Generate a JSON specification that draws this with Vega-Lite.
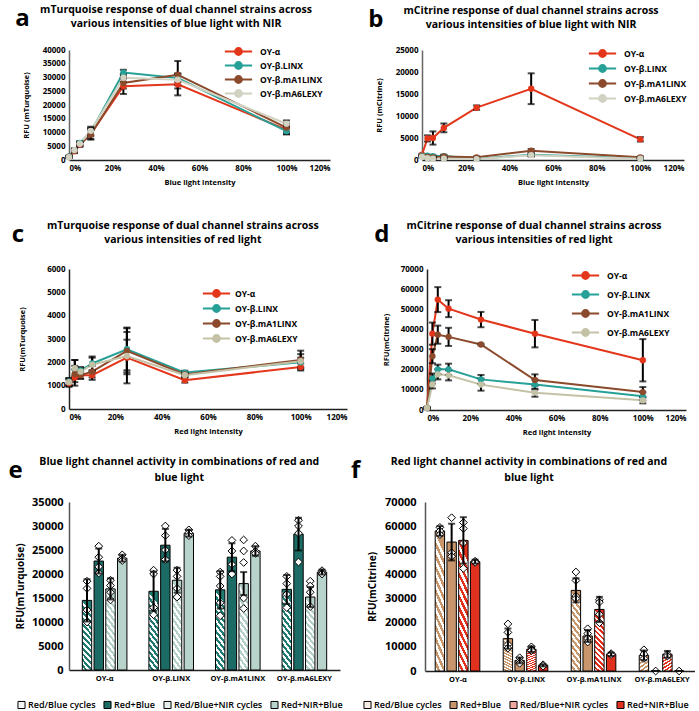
{
  "$schema": "https://vega.github.io/schema/vega-lite/v6.json",
  "padding": {"left": 8, "top": 4, "right": 0, "bottom": 0},
  "columns": 1,
  "align": "none",
  "spacing": 34,
  "resolve": {"scale": {"color": "independent", "fill": "independent"}, "legend": {"color": "independent", "fill": "independent"}},
  "config": {
    "font": "Open Sans",
    "view": {"stroke": null},
    "axis": {"grid": false, "ticks": false, "domainColor": "#222", "domainWidth": 1.5, "labelFontWeight": "bold", "titleFontWeight": "bold", "labelColor": "#000", "titleColor": "#000", "labelFontSize": 8, "titleFontSize": 7.5, "labelPadding": 4, "titlePadding": 6},
    "axisY": {"format": "d"},
    "legend": {"labelFontWeight": "bold", "labelColor": "#000", "title": null},
    "title": {"fontSize": 10.5, "fontWeight": "bold", "color": "#000", "lineHeight": 14, "anchor": "middle", "frame": "bounds", "offset": 16}
  },
  "datasets": {
    "a": [
      {"strain": "OY-α", "x": 0, "y": 1200, "sd": 300}, {"strain": "OY-α", "x": 0.025, "y": 3200, "sd": 700}, {"strain": "OY-α", "x": 0.05, "y": 5600, "sd": 800}, {"strain": "OY-α", "x": 0.1, "y": 9500, "sd": 1800}, {"strain": "OY-α", "x": 0.25, "y": 26800, "sd": 2800}, {"strain": "OY-α", "x": 0.5, "y": 27500, "sd": 4000}, {"strain": "OY-α", "x": 1, "y": 11000, "sd": 1500},
      {"strain": "OY-β.LINX", "x": 0, "y": 1300, "sd": 300}, {"strain": "OY-β.LINX", "x": 0.025, "y": 3500, "sd": 600}, {"strain": "OY-β.LINX", "x": 0.05, "y": 6200, "sd": 700}, {"strain": "OY-β.LINX", "x": 0.1, "y": 10200, "sd": 1500}, {"strain": "OY-β.LINX", "x": 0.25, "y": 31800, "sd": 1000}, {"strain": "OY-β.LINX", "x": 0.5, "y": 29800, "sd": 1500}, {"strain": "OY-β.LINX", "x": 1, "y": 10500, "sd": 1200},
      {"strain": "OY-β.mA1LINX", "x": 0, "y": 1100, "sd": 300}, {"strain": "OY-β.mA1LINX", "x": 0.025, "y": 3300, "sd": 600}, {"strain": "OY-β.mA1LINX", "x": 0.05, "y": 5700, "sd": 700}, {"strain": "OY-β.mA1LINX", "x": 0.1, "y": 9200, "sd": 1800}, {"strain": "OY-β.mA1LINX", "x": 0.25, "y": 28000, "sd": 2000}, {"strain": "OY-β.mA1LINX", "x": 0.5, "y": 31000, "sd": 5000}, {"strain": "OY-β.mA1LINX", "x": 1, "y": 11800, "sd": 1500},
      {"strain": "OY-β.mA6LEXY", "x": 0, "y": 1000, "sd": 300}, {"strain": "OY-β.mA6LEXY", "x": 0.025, "y": 3600, "sd": 600}, {"strain": "OY-β.mA6LEXY", "x": 0.05, "y": 5900, "sd": 700}, {"strain": "OY-β.mA6LEXY", "x": 0.1, "y": 10600, "sd": 1500}, {"strain": "OY-β.mA6LEXY", "x": 0.25, "y": 29900, "sd": 1500}, {"strain": "OY-β.mA6LEXY", "x": 0.5, "y": 29200, "sd": 2000}, {"strain": "OY-β.mA6LEXY", "x": 1, "y": 13200, "sd": 1200}
    ],
    "b": [
      {"strain": "OY-α", "x": 0, "y": 1200, "sd": 200}, {"strain": "OY-α", "x": 0.025, "y": 4900, "sd": 700}, {"strain": "OY-α", "x": 0.05, "y": 5000, "sd": 1500}, {"strain": "OY-α", "x": 0.1, "y": 7300, "sd": 1000}, {"strain": "OY-α", "x": 0.25, "y": 11900, "sd": 500}, {"strain": "OY-α", "x": 0.5, "y": 16200, "sd": 3500}, {"strain": "OY-α", "x": 1, "y": 4700, "sd": 500},
      {"strain": "OY-β.LINX", "x": 0, "y": 1000, "sd": 200}, {"strain": "OY-β.LINX", "x": 0.025, "y": 1000, "sd": 200}, {"strain": "OY-β.LINX", "x": 0.05, "y": 900, "sd": 200}, {"strain": "OY-β.LINX", "x": 0.1, "y": 900, "sd": 300}, {"strain": "OY-β.LINX", "x": 0.25, "y": 300, "sd": 100}, {"strain": "OY-β.LINX", "x": 0.5, "y": 1200, "sd": 300}, {"strain": "OY-β.LINX", "x": 1, "y": 400, "sd": 100},
      {"strain": "OY-β.mA1LINX", "x": 0, "y": 800, "sd": 200}, {"strain": "OY-β.mA1LINX", "x": 0.025, "y": 700, "sd": 200}, {"strain": "OY-β.mA1LINX", "x": 0.05, "y": 600, "sd": 200}, {"strain": "OY-β.mA1LINX", "x": 0.1, "y": 800, "sd": 300}, {"strain": "OY-β.mA1LINX", "x": 0.25, "y": 600, "sd": 200}, {"strain": "OY-β.mA1LINX", "x": 0.5, "y": 2100, "sd": 400}, {"strain": "OY-β.mA1LINX", "x": 1, "y": 600, "sd": 200},
      {"strain": "OY-β.mA6LEXY", "x": 0, "y": 700, "sd": 200}, {"strain": "OY-β.mA6LEXY", "x": 0.025, "y": 400, "sd": 100}, {"strain": "OY-β.mA6LEXY", "x": 0.05, "y": 300, "sd": 100}, {"strain": "OY-β.mA6LEXY", "x": 0.1, "y": 300, "sd": 100}, {"strain": "OY-β.mA6LEXY", "x": 0.25, "y": 200, "sd": 100}, {"strain": "OY-β.mA6LEXY", "x": 0.5, "y": 1100, "sd": 300}, {"strain": "OY-β.mA6LEXY", "x": 1, "y": 300, "sd": 100}
    ],
    "c": [
      {"strain": "OY-α", "x": 0, "y": 1100, "sd": 150}, {"strain": "OY-α", "x": 0.025, "y": 1350, "sd": 350}, {"strain": "OY-α", "x": 0.05, "y": 1450, "sd": 150}, {"strain": "OY-α", "x": 0.1, "y": 1450, "sd": 200}, {"strain": "OY-α", "x": 0.25, "y": 2200, "sd": 1100}, {"strain": "OY-α", "x": 0.5, "y": 1230, "sd": 100}, {"strain": "OY-α", "x": 1, "y": 1800, "sd": 150},
      {"strain": "OY-β.LINX", "x": 0, "y": 1180, "sd": 150}, {"strain": "OY-β.LINX", "x": 0.025, "y": 1700, "sd": 400}, {"strain": "OY-β.LINX", "x": 0.05, "y": 1650, "sd": 150}, {"strain": "OY-β.LINX", "x": 0.1, "y": 1950, "sd": 300}, {"strain": "OY-β.LINX", "x": 0.25, "y": 2560, "sd": 900}, {"strain": "OY-β.LINX", "x": 0.5, "y": 1560, "sd": 80}, {"strain": "OY-β.LINX", "x": 1, "y": 2000, "sd": 200},
      {"strain": "OY-β.mA1LINX", "x": 0, "y": 1150, "sd": 150}, {"strain": "OY-β.mA1LINX", "x": 0.025, "y": 1500, "sd": 350}, {"strain": "OY-β.mA1LINX", "x": 0.05, "y": 1450, "sd": 150}, {"strain": "OY-β.mA1LINX", "x": 0.1, "y": 1600, "sd": 250}, {"strain": "OY-β.mA1LINX", "x": 0.25, "y": 2490, "sd": 1000}, {"strain": "OY-β.mA1LINX", "x": 0.5, "y": 1480, "sd": 80}, {"strain": "OY-β.mA1LINX", "x": 1, "y": 2100, "sd": 400},
      {"strain": "OY-β.mA6LEXY", "x": 0, "y": 1150, "sd": 150}, {"strain": "OY-β.mA6LEXY", "x": 0.025, "y": 1750, "sd": 350}, {"strain": "OY-β.mA6LEXY", "x": 0.05, "y": 1600, "sd": 150}, {"strain": "OY-β.mA6LEXY", "x": 0.1, "y": 1900, "sd": 300}, {"strain": "OY-β.mA6LEXY", "x": 0.25, "y": 2270, "sd": 700}, {"strain": "OY-β.mA6LEXY", "x": 0.5, "y": 1450, "sd": 80}, {"strain": "OY-β.mA6LEXY", "x": 1, "y": 2050, "sd": 300}
    ],
    "d": [
      {"strain": "OY-α", "x": 0, "y": 1000, "sd": 300}, {"strain": "OY-α", "x": 0.025, "y": 37900, "sd": 5500}, {"strain": "OY-α", "x": 0.05, "y": 54800, "sd": 6200}, {"strain": "OY-α", "x": 0.1, "y": 50300, "sd": 4200}, {"strain": "OY-α", "x": 0.25, "y": 44900, "sd": 3800}, {"strain": "OY-α", "x": 0.5, "y": 37900, "sd": 6800}, {"strain": "OY-α", "x": 1, "y": 24700, "sd": 10500},
      {"strain": "OY-β.LINX", "x": 0, "y": 1000, "sd": 300}, {"strain": "OY-β.LINX", "x": 0.025, "y": 15600, "sd": 2500}, {"strain": "OY-β.LINX", "x": 0.05, "y": 20200, "sd": 2300}, {"strain": "OY-β.LINX", "x": 0.1, "y": 20200, "sd": 2800}, {"strain": "OY-β.LINX", "x": 0.25, "y": 15200, "sd": 2200}, {"strain": "OY-β.LINX", "x": 0.5, "y": 12600, "sd": 2500}, {"strain": "OY-β.LINX", "x": 1, "y": 6800, "sd": 2000},
      {"strain": "OY-β.mA1LINX", "x": 0, "y": 1000, "sd": 300}, {"strain": "OY-β.mA1LINX", "x": 0.025, "y": 26700, "sd": 3500}, {"strain": "OY-β.mA1LINX", "x": 0.05, "y": 37400, "sd": 4500}, {"strain": "OY-β.mA1LINX", "x": 0.1, "y": 36300, "sd": 4500}, {"strain": "OY-β.mA1LINX", "x": 0.25, "y": 32500, "sd": 400}, {"strain": "OY-β.mA1LINX", "x": 0.5, "y": 14900, "sd": 2800}, {"strain": "OY-β.mA1LINX", "x": 1, "y": 8900, "sd": 2500},
      {"strain": "OY-β.mA6LEXY", "x": 0, "y": 1000, "sd": 300}, {"strain": "OY-β.mA6LEXY", "x": 0.025, "y": 12700, "sd": 2000}, {"strain": "OY-β.mA6LEXY", "x": 0.05, "y": 17700, "sd": 2500}, {"strain": "OY-β.mA6LEXY", "x": 0.1, "y": 17200, "sd": 2500}, {"strain": "OY-β.mA6LEXY", "x": 0.25, "y": 12600, "sd": 3000}, {"strain": "OY-β.mA6LEXY", "x": 0.5, "y": 8600, "sd": 2000}, {"strain": "OY-β.mA6LEXY", "x": 1, "y": 4800, "sd": 1500}
    ],
    "e": [
      {"strain": "OY-α", "cond": "Red/Blue cycles", "y": 14500, "sd": 4400}, {"strain": "OY-α", "cond": "Red+Blue", "y": 22700, "sd": 2600}, {"strain": "OY-α", "cond": "Red/Blue+NIR cycles", "y": 16900, "sd": 2200}, {"strain": "OY-α", "cond": "Red+NIR+Blue", "y": 23300, "sd": 700},
      {"strain": "OY-β.LINX", "cond": "Red/Blue cycles", "y": 16400, "sd": 4100}, {"strain": "OY-β.LINX", "cond": "Red+Blue", "y": 26000, "sd": 3400}, {"strain": "OY-β.LINX", "cond": "Red/Blue+NIR cycles", "y": 18700, "sd": 2600}, {"strain": "OY-β.LINX", "cond": "Red+NIR+Blue", "y": 28500, "sd": 700},
      {"strain": "OY-β.mA1LINX", "cond": "Red/Blue cycles", "y": 16700, "sd": 3900}, {"strain": "OY-β.mA1LINX", "cond": "Red+Blue", "y": 23500, "sd": 2900}, {"strain": "OY-β.mA1LINX", "cond": "Red/Blue+NIR cycles", "y": 18000, "sd": 2400}, {"strain": "OY-β.mA1LINX", "cond": "Red+NIR+Blue", "y": 24800, "sd": 1000},
      {"strain": "OY-β.mA6LEXY", "cond": "Red/Blue cycles", "y": 16800, "sd": 3000}, {"strain": "OY-β.mA6LEXY", "cond": "Red+Blue", "y": 28300, "sd": 3400}, {"strain": "OY-β.mA6LEXY", "cond": "Red/Blue+NIR cycles", "y": 15200, "sd": 2100}, {"strain": "OY-β.mA6LEXY", "cond": "Red+NIR+Blue", "y": 20400, "sd": 500}
    ],
    "eRep": [
      {"strain": "OY-α", "cond": "Red/Blue cycles", "y": 18500}, {"strain": "OY-α", "cond": "Red/Blue cycles", "y": 12500}, {"strain": "OY-α", "cond": "Red/Blue cycles", "y": 10000}, {"strain": "OY-α", "cond": "Red/Blue cycles", "y": 17000},
      {"strain": "OY-α", "cond": "Red+Blue", "y": 25800}, {"strain": "OY-α", "cond": "Red+Blue", "y": 23500}, {"strain": "OY-α", "cond": "Red+Blue", "y": 20200}, {"strain": "OY-α", "cond": "Red+Blue", "y": 21500},
      {"strain": "OY-α", "cond": "Red/Blue+NIR cycles", "y": 18700}, {"strain": "OY-α", "cond": "Red/Blue+NIR cycles", "y": 17600}, {"strain": "OY-α", "cond": "Red/Blue+NIR cycles", "y": 16200}, {"strain": "OY-α", "cond": "Red/Blue+NIR cycles", "y": 14600},
      {"strain": "OY-α", "cond": "Red+NIR+Blue", "y": 24000}, {"strain": "OY-α", "cond": "Red+NIR+Blue", "y": 23200}, {"strain": "OY-α", "cond": "Red+NIR+Blue", "y": 22800},
      {"strain": "OY-β.LINX", "cond": "Red/Blue cycles", "y": 20800}, {"strain": "OY-β.LINX", "cond": "Red/Blue cycles", "y": 20000}, {"strain": "OY-β.LINX", "cond": "Red/Blue cycles", "y": 13000}, {"strain": "OY-β.LINX", "cond": "Red/Blue cycles", "y": 11500},
      {"strain": "OY-β.LINX", "cond": "Red+Blue", "y": 30000}, {"strain": "OY-β.LINX", "cond": "Red+Blue", "y": 28000}, {"strain": "OY-β.LINX", "cond": "Red+Blue", "y": 25000}, {"strain": "OY-β.LINX", "cond": "Red+Blue", "y": 23000},
      {"strain": "OY-β.LINX", "cond": "Red/Blue+NIR cycles", "y": 20800}, {"strain": "OY-β.LINX", "cond": "Red/Blue+NIR cycles", "y": 19500}, {"strain": "OY-β.LINX", "cond": "Red/Blue+NIR cycles", "y": 17000}, {"strain": "OY-β.LINX", "cond": "Red/Blue+NIR cycles", "y": 15200},
      {"strain": "OY-β.LINX", "cond": "Red+NIR+Blue", "y": 29200}, {"strain": "OY-β.LINX", "cond": "Red+NIR+Blue", "y": 28600}, {"strain": "OY-β.LINX", "cond": "Red+NIR+Blue", "y": 28000},
      {"strain": "OY-β.mA1LINX", "cond": "Red/Blue cycles", "y": 20400}, {"strain": "OY-β.mA1LINX", "cond": "Red/Blue cycles", "y": 19500}, {"strain": "OY-β.mA1LINX", "cond": "Red/Blue cycles", "y": 14000}, {"strain": "OY-β.mA1LINX", "cond": "Red/Blue cycles", "y": 11300}, {"strain": "OY-β.mA1LINX", "cond": "Red/Blue cycles", "y": 17500},
      {"strain": "OY-β.mA1LINX", "cond": "Red+Blue", "y": 27000}, {"strain": "OY-β.mA1LINX", "cond": "Red+Blue", "y": 24800}, {"strain": "OY-β.mA1LINX", "cond": "Red+Blue", "y": 22000}, {"strain": "OY-β.mA1LINX", "cond": "Red+Blue", "y": 20000},
      {"strain": "OY-β.mA1LINX", "cond": "Red/Blue+NIR cycles", "y": 27100}, {"strain": "OY-β.mA1LINX", "cond": "Red/Blue+NIR cycles", "y": 24800}, {"strain": "OY-β.mA1LINX", "cond": "Red/Blue+NIR cycles", "y": 22400}, {"strain": "OY-β.mA1LINX", "cond": "Red/Blue+NIR cycles", "y": 15000}, {"strain": "OY-β.mA1LINX", "cond": "Red/Blue+NIR cycles", "y": 12800},
      {"strain": "OY-β.mA1LINX", "cond": "Red+NIR+Blue", "y": 25800}, {"strain": "OY-β.mA1LINX", "cond": "Red+NIR+Blue", "y": 24700}, {"strain": "OY-β.mA1LINX", "cond": "Red+NIR+Blue", "y": 24300},
      {"strain": "OY-β.mA6LEXY", "cond": "Red/Blue cycles", "y": 19500}, {"strain": "OY-β.mA6LEXY", "cond": "Red/Blue cycles", "y": 18000}, {"strain": "OY-β.mA6LEXY", "cond": "Red/Blue cycles", "y": 15800}, {"strain": "OY-β.mA6LEXY", "cond": "Red/Blue cycles", "y": 13000},
      {"strain": "OY-β.mA6LEXY", "cond": "Red+Blue", "y": 31200}, {"strain": "OY-β.mA6LEXY", "cond": "Red+Blue", "y": 30000}, {"strain": "OY-β.mA6LEXY", "cond": "Red+Blue", "y": 28500}, {"strain": "OY-β.mA6LEXY", "cond": "Red+Blue", "y": 22500},
      {"strain": "OY-β.mA6LEXY", "cond": "Red/Blue+NIR cycles", "y": 18500}, {"strain": "OY-β.mA6LEXY", "cond": "Red/Blue+NIR cycles", "y": 17500}, {"strain": "OY-β.mA6LEXY", "cond": "Red/Blue+NIR cycles", "y": 16200}, {"strain": "OY-β.mA6LEXY", "cond": "Red/Blue+NIR cycles", "y": 13200},
      {"strain": "OY-β.mA6LEXY", "cond": "Red+NIR+Blue", "y": 20700}, {"strain": "OY-β.mA6LEXY", "cond": "Red+NIR+Blue", "y": 20300}, {"strain": "OY-β.mA6LEXY", "cond": "Red+NIR+Blue", "y": 20000}
    ],
    "f": [
      {"strain": "OY-α", "cond": "Red/Blue cycles", "y": 58000, "sd": 2000}, {"strain": "OY-α", "cond": "Red+Blue", "y": 53400, "sd": 7600}, {"strain": "OY-α", "cond": "Red/Blue+NIR cycles", "y": 54100, "sd": 9600}, {"strain": "OY-α", "cond": "Red+NIR+Blue", "y": 45300, "sd": 800},
      {"strain": "OY-β.LINX", "cond": "Red/Blue cycles", "y": 13400, "sd": 4200}, {"strain": "OY-β.LINX", "cond": "Red+Blue", "y": 4400, "sd": 1200}, {"strain": "OY-β.LINX", "cond": "Red/Blue+NIR cycles", "y": 9000, "sd": 1200}, {"strain": "OY-β.LINX", "cond": "Red+NIR+Blue", "y": 2300, "sd": 400},
      {"strain": "OY-β.mA1LINX", "cond": "Red/Blue cycles", "y": 33400, "sd": 5000}, {"strain": "OY-β.mA1LINX", "cond": "Red+Blue", "y": 14500, "sd": 2500}, {"strain": "OY-β.mA1LINX", "cond": "Red/Blue+NIR cycles", "y": 25500, "sd": 5200}, {"strain": "OY-β.mA1LINX", "cond": "Red+NIR+Blue", "y": 6900, "sd": 700},
      {"strain": "OY-β.mA6LEXY", "cond": "Red/Blue cycles", "y": 6500, "sd": 2000}, {"strain": "OY-β.mA6LEXY", "cond": "Red+Blue", "y": 0, "sd": 0}, {"strain": "OY-β.mA6LEXY", "cond": "Red/Blue+NIR cycles", "y": 6900, "sd": 1400}, {"strain": "OY-β.mA6LEXY", "cond": "Red+NIR+Blue", "y": 0, "sd": 0}
    ],
    "fRep": [
      {"strain": "OY-α", "cond": "Red/Blue cycles", "y": 59500}, {"strain": "OY-α", "cond": "Red/Blue cycles", "y": 58000}, {"strain": "OY-α", "cond": "Red/Blue cycles", "y": 56500},
      {"strain": "OY-α", "cond": "Red+Blue", "y": 63500}, {"strain": "OY-α", "cond": "Red+Blue", "y": 49000}, {"strain": "OY-α", "cond": "Red+Blue", "y": 47500},
      {"strain": "OY-α", "cond": "Red/Blue+NIR cycles", "y": 61500}, {"strain": "OY-α", "cond": "Red/Blue+NIR cycles", "y": 59000}, {"strain": "OY-α", "cond": "Red/Blue+NIR cycles", "y": 42500}, {"strain": "OY-α", "cond": "Red/Blue+NIR cycles", "y": 53000},
      {"strain": "OY-α", "cond": "Red+NIR+Blue", "y": 45500}, {"strain": "OY-α", "cond": "Red+NIR+Blue", "y": 45000},
      {"strain": "OY-β.LINX", "cond": "Red/Blue cycles", "y": 19500}, {"strain": "OY-β.LINX", "cond": "Red/Blue cycles", "y": 16000}, {"strain": "OY-β.LINX", "cond": "Red/Blue cycles", "y": 11000}, {"strain": "OY-β.LINX", "cond": "Red/Blue cycles", "y": 9500},
      {"strain": "OY-β.LINX", "cond": "Red+Blue", "y": 5500}, {"strain": "OY-β.LINX", "cond": "Red+Blue", "y": 4000}, {"strain": "OY-β.LINX", "cond": "Red+Blue", "y": 3200},
      {"strain": "OY-β.LINX", "cond": "Red/Blue+NIR cycles", "y": 10000}, {"strain": "OY-β.LINX", "cond": "Red/Blue+NIR cycles", "y": 9000}, {"strain": "OY-β.LINX", "cond": "Red/Blue+NIR cycles", "y": 8500},
      {"strain": "OY-β.LINX", "cond": "Red+NIR+Blue", "y": 2600}, {"strain": "OY-β.LINX", "cond": "Red+NIR+Blue", "y": 2000},
      {"strain": "OY-β.mA1LINX", "cond": "Red/Blue cycles", "y": 41000}, {"strain": "OY-β.mA1LINX", "cond": "Red/Blue cycles", "y": 37500}, {"strain": "OY-β.mA1LINX", "cond": "Red/Blue cycles", "y": 31000}, {"strain": "OY-β.mA1LINX", "cond": "Red/Blue cycles", "y": 30000},
      {"strain": "OY-β.mA1LINX", "cond": "Red+Blue", "y": 17500}, {"strain": "OY-β.mA1LINX", "cond": "Red+Blue", "y": 15500}, {"strain": "OY-β.mA1LINX", "cond": "Red+Blue", "y": 13500}, {"strain": "OY-β.mA1LINX", "cond": "Red+Blue", "y": 12000},
      {"strain": "OY-β.mA1LINX", "cond": "Red/Blue+NIR cycles", "y": 29500}, {"strain": "OY-β.mA1LINX", "cond": "Red/Blue+NIR cycles", "y": 28500}, {"strain": "OY-β.mA1LINX", "cond": "Red/Blue+NIR cycles", "y": 23500}, {"strain": "OY-β.mA1LINX", "cond": "Red/Blue+NIR cycles", "y": 20000},
      {"strain": "OY-β.mA1LINX", "cond": "Red+NIR+Blue", "y": 7200}, {"strain": "OY-β.mA1LINX", "cond": "Red+NIR+Blue", "y": 6800},
      {"strain": "OY-β.mA6LEXY", "cond": "Red/Blue cycles", "y": 8800}, {"strain": "OY-β.mA6LEXY", "cond": "Red/Blue cycles", "y": 7000}, {"strain": "OY-β.mA6LEXY", "cond": "Red/Blue cycles", "y": 5200},
      {"strain": "OY-β.mA6LEXY", "cond": "Red+Blue", "y": 0},
      {"strain": "OY-β.mA6LEXY", "cond": "Red/Blue+NIR cycles", "y": 7000}, {"strain": "OY-β.mA6LEXY", "cond": "Red/Blue+NIR cycles", "y": 6200},
      {"strain": "OY-β.mA6LEXY", "cond": "Red+NIR+Blue", "y": 0}
    ]
  },
  "concat": [
    {
      "spacing": 38,
      "resolve": {"scale": {"color": "independent"}, "legend": {"color": "independent"}},
      "hconcat": [
        {
          "title": {"text": "a", "anchor": "start", "fontSize": 24, "offset": 0, "dy": 26, "dx": -7},
          "resolve": {"scale": {"color": "independent"}, "legend": {"color": "independent"}},
          "vconcat": [{
            "width": 261, "height": 110,
            "title": {"text": ["mTurquoise response of dual channel strains across", "various intensities of blue light with NIR"]},
            "data": {"name": "a"},
            "encoding": {
              "x": {"field": "x", "type": "quantitative", "scale": {"domain": [0, 1.2]}, "axis": {"values": [0, 0.2, 0.4, 0.6, 0.8, 1, 1.2], "format": ".0%", "title": "Blue light intensity"}},
              "y": {"field": "y", "type": "quantitative", "scale": {"domain": [0, 40000]}, "axis": {"values": [0, 5000, 10000, 15000, 20000, 25000, 30000, 35000, 40000], "title": "RFU (mTurquoise)", "domainColor": "#666", "titlePadding": 12}}
            },
            "layer": [
              {"mark": {"type": "line", "strokeWidth": 2}, "encoding": {"color": {"field": "strain", "type": "nominal", "scale": {"domain": ["OY-α", "OY-β.LINX", "OY-β.mA1LINX", "OY-β.mA6LEXY"], "range": ["#E3361B", "#27A197", "#8B4A2C", "#D2D2C2"]}, "legend": {"orient": "none", "legendX": 163, "legendY": -5, "rowPadding": -2, "labelFontSize": 8.5, "symbolType": "M-2.6,0L2.6,0M-0.65,0A0.65,0.65,0,1,0,0.65,0A0.65,0.65,0,1,0,-0.65,0M-0.35,0A0.35,0.35,0,1,0,0.35,0A0.35,0.35,0,1,0,-0.35,0", "symbolSize": 110, "symbolStrokeWidth": 2, "labelOffset": 15}}}},
              {"mark": {"type": "errorbar", "color": "black", "rule": {"strokeWidth": 2}, "ticks": {"size": 7, "thickness": 2}}, "encoding": {"yError": {"field": "sd"}}},
              {"mark": {"type": "circle", "size": 40, "opacity": 1}, "encoding": {"color": {"field": "strain", "type": "nominal", "legend": null}}}
            ]
          }]
        },
        {
          "title": {"text": "b", "anchor": "start", "fontSize": 24, "offset": 0, "dy": 26, "dx": -7},
          "resolve": {"scale": {"color": "independent"}, "legend": {"color": "independent"}},
          "vconcat": [{
            "width": 262, "height": 110,
            "title": {"text": ["mCitrine response of dual channel strains across", "various intensities of blue light with NIR"]},
            "data": {"name": "b"},
            "encoding": {
              "x": {"field": "x", "type": "quantitative", "scale": {"domain": [0, 1.2]}, "axis": {"values": [0, 0.2, 0.4, 0.6, 0.8, 1, 1.2], "format": ".0%", "title": "Blue light intensity"}},
              "y": {"field": "y", "type": "quantitative", "scale": {"domain": [0, 25000]}, "axis": {"values": [0, 5000, 10000, 15000, 20000, 25000], "title": "RFU (mCitrine)", "domainColor": "#666", "titlePadding": 12}}
            },
            "layer": [
              {"mark": {"type": "line", "strokeWidth": 2}, "encoding": {"color": {"field": "strain", "type": "nominal", "scale": {"domain": ["OY-α", "OY-β.LINX", "OY-β.mA1LINX", "OY-β.mA6LEXY"], "range": ["#E3361B", "#27A197", "#8B4A2C", "#D2D2C2"]}, "legend": {"orient": "none", "legendX": 174, "legendY": -3, "rowPadding": 0, "labelFontSize": 8.5, "symbolType": "M-2.6,0L2.6,0M-0.65,0A0.65,0.65,0,1,0,0.65,0A0.65,0.65,0,1,0,-0.65,0M-0.35,0A0.35,0.35,0,1,0,0.35,0A0.35,0.35,0,1,0,-0.35,0", "symbolSize": 110, "symbolStrokeWidth": 2, "labelOffset": 15}}}},
              {"mark": {"type": "errorbar", "color": "black", "rule": {"strokeWidth": 2}, "ticks": {"size": 7, "thickness": 2}}, "encoding": {"yError": {"field": "sd"}}},
              {"mark": {"type": "circle", "size": 40, "opacity": 1}, "encoding": {"color": {"field": "strain", "type": "nominal", "legend": null}}}
            ]
          }]
        }
      ]
    },
    {
      "columns": 1,
      "align": "none",
      "spacing": 20,
      "resolve": {"scale": {"color": "independent", "fill": "independent"}, "legend": {"color": "independent", "fill": "independent"}},
      "concat": [
        {
          "spacing": 27,
          "resolve": {"scale": {"color": "independent"}, "legend": {"color": "independent"}},
          "hconcat": [
            {
              "title": {"text": "c", "anchor": "start", "fontSize": 24, "offset": 0, "dy": 26, "dx": -7},
              "resolve": {"scale": {"color": "independent"}, "legend": {"color": "independent"}},
              "vconcat": [{
                "width": 278, "height": 140,
                "title": {"text": ["mTurquoise response of dual channel strains across", "various intensities of red light"], "offset": 20},
                "data": {"name": "c"},
                "encoding": {
                  "x": {"field": "x", "type": "quantitative", "scale": {"domain": [0, 1.2]}, "axis": {"values": [0, 0.2, 0.4, 0.6, 0.8, 1, 1.2], "format": ".0%", "title": "Red light intensity"}},
                  "y": {"field": "y", "type": "quantitative", "scale": {"domain": [0, 6000]}, "axis": {"values": [0, 1000, 2000, 3000, 4000, 5000, 6000], "title": "RFU(mTurquoise)", "titlePadding": 20}}
                },
                "layer": [
                  {"mark": {"type": "line", "strokeWidth": 2}, "encoding": {"color": {"field": "strain", "type": "nominal", "scale": {"domain": ["OY-α", "OY-β.LINX", "OY-β.mA1LINX", "OY-β.mA6LEXY"], "range": ["#E3361B", "#27A197", "#8B4A2C", "#C4C2A6"]}, "legend": {"orient": "none", "legendX": 141, "legendY": 18, "rowPadding": 0, "labelFontSize": 8.5, "symbolType": "M-2.6,0L2.6,0M-0.65,0A0.65,0.65,0,1,0,0.65,0A0.65,0.65,0,1,0,-0.65,0M-0.35,0A0.35,0.35,0,1,0,0.35,0A0.35,0.35,0,1,0,-0.35,0", "symbolSize": 110, "symbolStrokeWidth": 2, "labelOffset": 12}}}},
                  {"mark": {"type": "errorbar", "color": "black", "rule": {"strokeWidth": 2}, "ticks": {"size": 7, "thickness": 2}}, "encoding": {"yError": {"field": "sd"}}},
                  {"mark": {"type": "circle", "size": 40, "opacity": 1}, "encoding": {"color": {"field": "strain", "type": "nominal", "legend": null}}}
                ]
              }]
            },
            {
              "title": {"text": "d", "anchor": "start", "fontSize": 24, "offset": 0, "dy": 26, "dx": -8},
              "resolve": {"scale": {"color": "independent"}, "legend": {"color": "independent"}},
              "vconcat": [{
                "width": 259, "height": 141,
                "title": {"text": ["mCitrine response of dual channel strains across", "various intensities of red light"], "offset": 20},
                "data": {"name": "d"},
                "encoding": {
                  "x": {"field": "x", "type": "quantitative", "scale": {"domain": [0, 1.2]}, "axis": {"values": [0, 0.2, 0.4, 0.6, 0.8, 1, 1.2], "format": ".0%", "title": "Red light intensity"}},
                  "y": {"field": "y", "type": "quantitative", "scale": {"domain": [0, 70000]}, "axis": {"values": [0, 10000, 20000, 30000, 40000, 50000, 60000, 70000], "title": "RFU(mCitrine)", "titlePadding": 10}}
                },
                "layer": [
                  {"mark": {"type": "line", "strokeWidth": 2}, "encoding": {"color": {"field": "strain", "type": "nominal", "scale": {"domain": ["OY-α", "OY-β.LINX", "OY-β.mA1LINX", "OY-β.mA6LEXY"], "range": ["#E3361B", "#27A197", "#8B4A2C", "#C4C2A6"]}, "legend": {"orient": "none", "legendX": 152, "legendY": 0, "rowPadding": 4, "labelFontSize": 8.5, "symbolType": "M-2.6,0L2.6,0M-0.65,0A0.65,0.65,0,1,0,0.65,0A0.65,0.65,0,1,0,-0.65,0M-0.35,0A0.35,0.35,0,1,0,0.35,0A0.35,0.35,0,1,0,-0.35,0", "symbolSize": 110, "symbolStrokeWidth": 2, "labelOffset": 15}}}},
                  {"mark": {"type": "errorbar", "color": "black", "rule": {"strokeWidth": 2}, "ticks": {"size": 7, "thickness": 2}}, "encoding": {"yError": {"field": "sd"}}},
                  {"mark": {"type": "circle", "size": 40, "opacity": 1}, "encoding": {"color": {"field": "strain", "type": "nominal", "legend": null}}}
                ]
              }]
            }
          ]
        },
        {
          "spacing": 8,
          "resolve": {"scale": {"fill": "independent"}, "legend": {"fill": "independent"}},
          "hconcat": [
            {
              "title": {"text": "e", "anchor": "start", "fontSize": 24, "offset": 0, "dy": 26, "dx": -7},
              "resolve": {"scale": {"fill": "independent"}, "legend": {"fill": "independent"}},
              "vconcat": [{
                "width": 271, "height": 168,
                "title": {"text": ["Blue light channel activity in combinations of red and", "blue light"], "offset": 13, "lineHeight": 16},
                "encoding": {
                  "x": {"field": "strain", "type": "nominal", "sort": ["OY-α", "OY-β.LINX", "OY-β.mA1LINX", "OY-β.mA6LEXY"], "scale": {"paddingInner": 0.33, "paddingOuter": 0.2}, "axis": {"title": null, "labelAngle": 0, "labelFontSize": 7.5}},
                  "xOffset": {"field": "cond", "type": "nominal", "sort": ["Red/Blue cycles", "Red+Blue", "Red/Blue+NIR cycles", "Red+NIR+Blue"], "scale": {"paddingInner": 0.2}},
                  "y": {"field": "y", "type": "quantitative", "scale": {"domain": [0, 35000]}, "axis": {"values": [0, 5000, 10000, 15000, 20000, 25000, 30000, 35000], "title": "RFU(mTurquoise)", "labelFontSize": 11, "titleFontSize": 10, "domainColor": "#555", "titlePadding": 6, "labelPadding": 6}}
                },
                "layer": [
                  {"data": {"name": "e"}, "mark": {"type": "bar", "stroke": "black", "strokeWidth": 1},
                   "encoding": {"fill": {
                     "condition": [
                       {"test": "datum.cond === 'Red/Blue cycles'", "value": {"gradient": "linear", "x1": 0.15, "y1": 0, "x2": 0, "y2": 1, "stops": [{"offset":0,"color":"#1F7A72"},{"offset":0.0417,"color":"#1F7A72"},{"offset":0.0417,"color":"#fff"},{"offset":0.0833,"color":"#fff"},{"offset":0.0833,"color":"#1F7A72"},{"offset":0.125,"color":"#1F7A72"},{"offset":0.125,"color":"#fff"},{"offset":0.1667,"color":"#fff"},{"offset":0.1667,"color":"#1F7A72"},{"offset":0.2083,"color":"#1F7A72"},{"offset":0.2083,"color":"#fff"},{"offset":0.25,"color":"#fff"},{"offset":0.25,"color":"#1F7A72"},{"offset":0.2917,"color":"#1F7A72"},{"offset":0.2917,"color":"#fff"},{"offset":0.3333,"color":"#fff"},{"offset":0.3333,"color":"#1F7A72"},{"offset":0.375,"color":"#1F7A72"},{"offset":0.375,"color":"#fff"},{"offset":0.4167,"color":"#fff"},{"offset":0.4167,"color":"#1F7A72"},{"offset":0.4583,"color":"#1F7A72"},{"offset":0.4583,"color":"#fff"},{"offset":0.5,"color":"#fff"},{"offset":0.5,"color":"#1F7A72"},{"offset":0.5417,"color":"#1F7A72"},{"offset":0.5417,"color":"#fff"},{"offset":0.5833,"color":"#fff"},{"offset":0.5833,"color":"#1F7A72"},{"offset":0.625,"color":"#1F7A72"},{"offset":0.625,"color":"#fff"},{"offset":0.6667,"color":"#fff"},{"offset":0.6667,"color":"#1F7A72"},{"offset":0.7083,"color":"#1F7A72"},{"offset":0.7083,"color":"#fff"},{"offset":0.75,"color":"#fff"},{"offset":0.75,"color":"#1F7A72"},{"offset":0.7917,"color":"#1F7A72"},{"offset":0.7917,"color":"#fff"},{"offset":0.8333,"color":"#fff"},{"offset":0.8333,"color":"#1F7A72"},{"offset":0.875,"color":"#1F7A72"},{"offset":0.875,"color":"#fff"},{"offset":0.9167,"color":"#fff"},{"offset":0.9167,"color":"#1F7A72"},{"offset":0.9583,"color":"#1F7A72"},{"offset":0.9583,"color":"#fff"},{"offset":1,"color":"#fff"}]}},
                       {"test": "datum.cond === 'Red/Blue+NIR cycles'", "value": {"gradient": "linear", "x1": 0.15, "y1": 0, "x2": 0, "y2": 1, "stops": [{"offset":0,"color":"#B4D1C9"},{"offset":0.0417,"color":"#B4D1C9"},{"offset":0.0417,"color":"#fff"},{"offset":0.0833,"color":"#fff"},{"offset":0.0833,"color":"#B4D1C9"},{"offset":0.125,"color":"#B4D1C9"},{"offset":0.125,"color":"#fff"},{"offset":0.1667,"color":"#fff"},{"offset":0.1667,"color":"#B4D1C9"},{"offset":0.2083,"color":"#B4D1C9"},{"offset":0.2083,"color":"#fff"},{"offset":0.25,"color":"#fff"},{"offset":0.25,"color":"#B4D1C9"},{"offset":0.2917,"color":"#B4D1C9"},{"offset":0.2917,"color":"#fff"},{"offset":0.3333,"color":"#fff"},{"offset":0.3333,"color":"#B4D1C9"},{"offset":0.375,"color":"#B4D1C9"},{"offset":0.375,"color":"#fff"},{"offset":0.4167,"color":"#fff"},{"offset":0.4167,"color":"#B4D1C9"},{"offset":0.4583,"color":"#B4D1C9"},{"offset":0.4583,"color":"#fff"},{"offset":0.5,"color":"#fff"},{"offset":0.5,"color":"#B4D1C9"},{"offset":0.5417,"color":"#B4D1C9"},{"offset":0.5417,"color":"#fff"},{"offset":0.5833,"color":"#fff"},{"offset":0.5833,"color":"#B4D1C9"},{"offset":0.625,"color":"#B4D1C9"},{"offset":0.625,"color":"#fff"},{"offset":0.6667,"color":"#fff"},{"offset":0.6667,"color":"#B4D1C9"},{"offset":0.7083,"color":"#B4D1C9"},{"offset":0.7083,"color":"#fff"},{"offset":0.75,"color":"#fff"},{"offset":0.75,"color":"#B4D1C9"},{"offset":0.7917,"color":"#B4D1C9"},{"offset":0.7917,"color":"#fff"},{"offset":0.8333,"color":"#fff"},{"offset":0.8333,"color":"#B4D1C9"},{"offset":0.875,"color":"#B4D1C9"},{"offset":0.875,"color":"#fff"},{"offset":0.9167,"color":"#fff"},{"offset":0.9167,"color":"#B4D1C9"},{"offset":0.9583,"color":"#B4D1C9"},{"offset":0.9583,"color":"#fff"},{"offset":1,"color":"#fff"}]}}
                     ],
                     "field": "cond", "type": "nominal", "scale": {"domain": ["Red/Blue cycles", "Red+Blue", "Red/Blue+NIR cycles", "Red+NIR+Blue"], "range": ["#F2F7F6", "#1D6B65", "#E6EFEC", "#B7D3CB"]},
                     "legend": {"orient": "none", "legendX": -52, "legendY": 198, "direction": "horizontal", "symbolType": "square", "symbolSize": 50, "symbolStrokeColor": "black", "symbolStrokeWidth": 1, "labelFontSize": 9, "labelFontWeight": 600, "labelOffset": 2, "columnPadding": 5}}}},
                  {"data": {"name": "eRep"}, "mark": {"type": "point", "shape": "diamond", "filled": true, "fill": "white", "stroke": "black", "strokeWidth": 1, "size": 60, "opacity": 1}},
                  {"data": {"name": "e"}, "mark": {"type": "errorbar", "color": "black", "rule": {"strokeWidth": 2}, "ticks": {"size": 7, "thickness": 2}}, "encoding": {"yError": {"field": "sd"}}}
                ]
              }]
            },
            {
              "title": {"text": "f", "anchor": "start", "fontSize": 24, "offset": 0, "dy": 26, "dx": -12},
              "resolve": {"scale": {"fill": "independent"}, "legend": {"fill": "independent"}},
              "vconcat": [{
                "width": 270, "height": 169,
                "title": {"text": ["Red light channel activity in combinations of red and", "blue light"], "offset": 13, "lineHeight": 16},
                "encoding": {
                  "x": {"field": "strain", "type": "nominal", "sort": ["OY-α", "OY-β.LINX", "OY-β.mA1LINX", "OY-β.mA6LEXY"], "scale": {"paddingInner": 0.33, "paddingOuter": 0.15}, "axis": {"title": null, "labelAngle": 0, "labelFontSize": 7.5}},
                  "xOffset": {"field": "cond", "type": "nominal", "sort": ["Red/Blue cycles", "Red+Blue", "Red/Blue+NIR cycles", "Red+NIR+Blue"], "scale": {"paddingInner": 0.2}},
                  "y": {"field": "y", "type": "quantitative", "scale": {"domain": [0, 70000]}, "axis": {"values": [0, 10000, 20000, 30000, 40000, 50000, 60000, 70000], "title": "RFU(mCitrine)", "labelFontSize": 11, "titleFontSize": 10, "domainColor": "#555", "titlePadding": 7, "labelPadding": 9}}
                },
                "layer": [
                  {"data": {"name": "f"}, "mark": {"type": "bar", "stroke": "black", "strokeWidth": 1},
                   "encoding": {"fill": {
                     "condition": [
                       {"test": "datum.cond === 'Red/Blue cycles'", "value": {"gradient": "linear", "x1": 0.15, "y1": 0, "x2": 0, "y2": 1, "stops": [{"offset":0,"color":"#C9956B"},{"offset":0.0417,"color":"#C9956B"},{"offset":0.0417,"color":"#fff"},{"offset":0.0833,"color":"#fff"},{"offset":0.0833,"color":"#C9956B"},{"offset":0.125,"color":"#C9956B"},{"offset":0.125,"color":"#fff"},{"offset":0.1667,"color":"#fff"},{"offset":0.1667,"color":"#C9956B"},{"offset":0.2083,"color":"#C9956B"},{"offset":0.2083,"color":"#fff"},{"offset":0.25,"color":"#fff"},{"offset":0.25,"color":"#C9956B"},{"offset":0.2917,"color":"#C9956B"},{"offset":0.2917,"color":"#fff"},{"offset":0.3333,"color":"#fff"},{"offset":0.3333,"color":"#C9956B"},{"offset":0.375,"color":"#C9956B"},{"offset":0.375,"color":"#fff"},{"offset":0.4167,"color":"#fff"},{"offset":0.4167,"color":"#C9956B"},{"offset":0.4583,"color":"#C9956B"},{"offset":0.4583,"color":"#fff"},{"offset":0.5,"color":"#fff"},{"offset":0.5,"color":"#C9956B"},{"offset":0.5417,"color":"#C9956B"},{"offset":0.5417,"color":"#fff"},{"offset":0.5833,"color":"#fff"},{"offset":0.5833,"color":"#C9956B"},{"offset":0.625,"color":"#C9956B"},{"offset":0.625,"color":"#fff"},{"offset":0.6667,"color":"#fff"},{"offset":0.6667,"color":"#C9956B"},{"offset":0.7083,"color":"#C9956B"},{"offset":0.7083,"color":"#fff"},{"offset":0.75,"color":"#fff"},{"offset":0.75,"color":"#C9956B"},{"offset":0.7917,"color":"#C9956B"},{"offset":0.7917,"color":"#fff"},{"offset":0.8333,"color":"#fff"},{"offset":0.8333,"color":"#C9956B"},{"offset":0.875,"color":"#C9956B"},{"offset":0.875,"color":"#fff"},{"offset":0.9167,"color":"#fff"},{"offset":0.9167,"color":"#C9956B"},{"offset":0.9583,"color":"#C9956B"},{"offset":0.9583,"color":"#fff"},{"offset":1,"color":"#fff"}]}},
                       {"test": "datum.cond === 'Red/Blue+NIR cycles'", "value": {"gradient": "linear", "x1": 0.15, "y1": 0, "x2": 0, "y2": 1, "stops": [{"offset":0,"color":"#E2311D"},{"offset":0.0417,"color":"#E2311D"},{"offset":0.0417,"color":"#fff"},{"offset":0.0833,"color":"#fff"},{"offset":0.0833,"color":"#E2311D"},{"offset":0.125,"color":"#E2311D"},{"offset":0.125,"color":"#fff"},{"offset":0.1667,"color":"#fff"},{"offset":0.1667,"color":"#E2311D"},{"offset":0.2083,"color":"#E2311D"},{"offset":0.2083,"color":"#fff"},{"offset":0.25,"color":"#fff"},{"offset":0.25,"color":"#E2311D"},{"offset":0.2917,"color":"#E2311D"},{"offset":0.2917,"color":"#fff"},{"offset":0.3333,"color":"#fff"},{"offset":0.3333,"color":"#E2311D"},{"offset":0.375,"color":"#E2311D"},{"offset":0.375,"color":"#fff"},{"offset":0.4167,"color":"#fff"},{"offset":0.4167,"color":"#E2311D"},{"offset":0.4583,"color":"#E2311D"},{"offset":0.4583,"color":"#fff"},{"offset":0.5,"color":"#fff"},{"offset":0.5,"color":"#E2311D"},{"offset":0.5417,"color":"#E2311D"},{"offset":0.5417,"color":"#fff"},{"offset":0.5833,"color":"#fff"},{"offset":0.5833,"color":"#E2311D"},{"offset":0.625,"color":"#E2311D"},{"offset":0.625,"color":"#fff"},{"offset":0.6667,"color":"#fff"},{"offset":0.6667,"color":"#E2311D"},{"offset":0.7083,"color":"#E2311D"},{"offset":0.7083,"color":"#fff"},{"offset":0.75,"color":"#fff"},{"offset":0.75,"color":"#E2311D"},{"offset":0.7917,"color":"#E2311D"},{"offset":0.7917,"color":"#fff"},{"offset":0.8333,"color":"#fff"},{"offset":0.8333,"color":"#E2311D"},{"offset":0.875,"color":"#E2311D"},{"offset":0.875,"color":"#fff"},{"offset":0.9167,"color":"#fff"},{"offset":0.9167,"color":"#E2311D"},{"offset":0.9583,"color":"#E2311D"},{"offset":0.9583,"color":"#fff"},{"offset":1,"color":"#fff"}]}}
                     ],
                     "field": "cond", "type": "nominal", "scale": {"domain": ["Red/Blue cycles", "Red+Blue", "Red/Blue+NIR cycles", "Red+NIR+Blue"], "range": ["#F6EDE6", "#C8956C", "#F0A79D", "#E0301E"]},
                     "legend": {"orient": "none", "legendX": -62, "legendY": 198, "direction": "horizontal", "symbolType": "square", "symbolSize": 50, "symbolStrokeColor": "black", "symbolStrokeWidth": 1, "labelFontSize": 9, "labelFontWeight": 600, "labelOffset": 2, "columnPadding": 5}}}},
                  {"data": {"name": "fRep"}, "mark": {"type": "point", "shape": "diamond", "filled": true, "fill": "white", "stroke": "black", "strokeWidth": 1, "size": 60, "opacity": 1}},
                  {"data": {"name": "f"}, "mark": {"type": "errorbar", "color": "black", "rule": {"strokeWidth": 2}, "ticks": {"size": 7, "thickness": 2}}, "encoding": {"yError": {"field": "sd"}}}
                ]
              }]
            }
          ]
        }
      ]
    }
  ]
}
